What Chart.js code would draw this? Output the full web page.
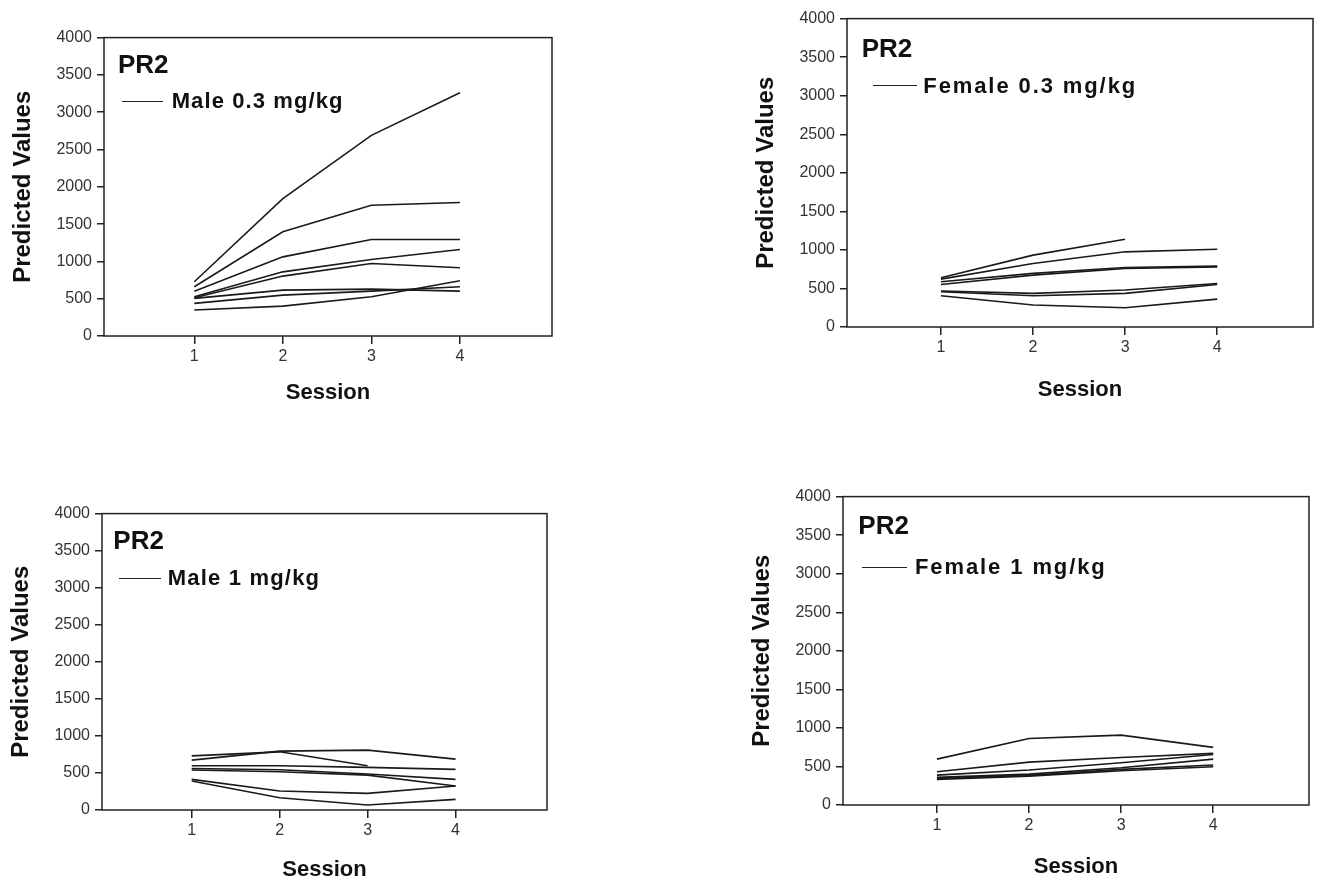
<!DOCTYPE html>
<html>
<head>
<meta charset="utf-8">
<script src="https://cdn.jsdelivr.net/npm/chart.js@4"></script>
<style>
  body { margin: 0; background: #fff; width: 1323px; height: 884px; position: relative; overflow: hidden;
         font-family: "Liberation Sans", Arial, sans-serif; }
  .panel { position: absolute; }
  .tag { position: absolute; font-weight: bold; color: #111; white-space: nowrap; line-height: 1; }
  .key { position: absolute; height: 0; border-top: 1.5px solid #222; }
</style>
</head>
<body>
<script>
const sessions = [1, 2, 3, 4];
const yTicks = [0, 500, 1000, 1500, 2000, 2500, 3000, 3500, 4000];

// one row per subject, one value per session (null = no value)
const male03 = [
  [727, 1842, 2689, 3260],
  [660, 1396, 1753, 1789],
  [600, 1061, 1294, 1294],
  [526, 860, 1026, 1160],
  [513, 803, 972, 914],
  [504, 615, 629, 602],
  [437, 548, 602, 660],
  [348, 401, 526, 740],
];
const female03 = [
  [638, 932, 1139, null],
  [621, 824, 975, 1009],
  [586, 695, 772, 789],
  [552, 673, 759, 780],
  [466, 436, 479, 565],
  [457, 405, 436, 552],
  [405, 285, 250, 362],
];
const male1 = [
  [731, 785, 597, null],
  [673, 795, 808, 687],
  [597, 597, 575, 548],
  [561, 543, 485, 413],
  [539, 516, 471, 323],
  [413, 256, 224, 323],
  [391, 166, 67, 144],
];
const female1 = [
  [595, 863, 906, 747],
  [431, 556, 617, 669],
  [388, 453, 548, 656],
  [358, 401, 483, 595],
  [345, 384, 462, 518],
  [332, 375, 444, 496],
];

const groupLabels = ['Male 0.3 mg/kg', 'Female 0.3 mg/kg', 'Male 1 mg/kg', 'Female 1 mg/kg'];
const groupTag = 'PR2';

// page layout: plot box [left, top, right, bottom], x axis height, overlay text spots
const panels = [
  { rows: male03, box: [104, 37, 552, 336], xh: 72, pr2: [118, 72.7], key: [121.7, 163.3, 101.7], text: [171.7, 109], spacing: 1.1 },
  { rows: female03, box: [847, 18, 1313, 327], xh: 78, pr2: [861.7, 56.7], key: [872.7, 917.3, 86], text: [923.3, 93.3], spacing: 1.9 },
  { rows: male1, box: [102, 513, 547, 810], xh: 75, pr2: [113.3, 549.3], key: [119.3, 160.7, 578.3], text: [167.7, 586], spacing: 1.2 },
  { rows: female1, box: [843, 496, 1309, 805], xh: 77, pr2: [858.3, 534.3], key: [862.3, 906.7, 567.3], text: [915, 575], spacing: 1.9 },
];

const Y_AXIS_W = 100;
const PAD_TOP = 10;
const PAD_RIGHT = 6;
const TOP_EXTRA = 4; // chart area lands a few px below the layout padding

const framePlugin = {
  id: 'frame',
  afterDraw(chart) {
    const { ctx, chartArea: { left, top, right, bottom } } = chart;
    ctx.save();
    ctx.strokeStyle = '#222';
    ctx.lineWidth = 1.5;
    ctx.strokeRect(left, top, right - left, bottom - top);
    ctx.restore();
  },
};

function addText(text, left, baseline, size, spacing) {
  const el = document.createElement('div');
  el.className = 'tag';
  el.textContent = text;
  el.style.fontSize = `${size}px`;
  el.style.letterSpacing = `${spacing}px`;
  el.style.left = `${left}px`;
  el.style.top = `${baseline - size * 0.8465}px`;
  document.body.appendChild(el);
}

function addKey(x1, x2, y) {
  const el = document.createElement('div');
  el.className = 'key';
  el.style.left = `${x1}px`;
  el.style.width = `${x2 - x1}px`;
  el.style.top = `${y - 0.75}px`;
  document.body.appendChild(el);
}

function buildPanel(panel, index) {
  const [l, t, r, b] = panel.box;
  const wrap = document.createElement('div');
  wrap.className = 'panel';
  wrap.style.left = `${l - Y_AXIS_W}px`;
  wrap.style.top = `${t - PAD_TOP - TOP_EXTRA}px`;
  wrap.style.width = `${r - l + Y_AXIS_W + PAD_RIGHT}px`;
  wrap.style.height = `${b - t + PAD_TOP + TOP_EXTRA + panel.xh}px`;
  const canvas = document.createElement('canvas');
  wrap.appendChild(canvas);
  document.body.appendChild(wrap);

  const datasets = panel.rows.map((row) => ({
    data: row.map((v, i) => ({ x: sessions[i], y: v })),
    borderColor: '#1a1a1a',
    borderWidth: 1.6,
    pointRadius: 0,
    tension: 0,
    fill: false,
    spanGaps: false,
  }));

  new Chart(canvas, {
    type: 'line',
    data: { datasets },
    options: {
      responsive: true,
      maintainAspectRatio: false,
      animation: false,
      layout: { padding: { top: PAD_TOP, right: PAD_RIGHT, left: 0, bottom: 0 } },
      plugins: { legend: { display: false }, tooltip: { enabled: false } },
      scales: {
        x: {
          type: 'linear',
          min: -0.02,
          max: 5.04,
          afterBuildTicks: (scale) => { scale.ticks = sessions.map((v) => ({ value: v })); },
          afterFit: (scale) => { scale.height = panel.xh; },
          ticks: { color: '#333', font: { size: 16 }, padding: 3, callback: (v) => String(v) },
          grid: { drawOnChartArea: false, tickLength: 8, color: '#222', lineWidth: 1.5 },
          border: { display: false },
          title: { display: true, text: 'Session', color: '#111', font: { size: 22, weight: 'bold' }, padding: { top: 0, bottom: 2 } },
        },
        y: {
          min: 0,
          max: 4000,
          afterBuildTicks: (scale) => { scale.ticks = yTicks.map((v) => ({ value: v })); },
          afterFit: (scale) => { scale.width = Y_AXIS_W; },
          ticks: { color: '#333', font: { size: 16 }, padding: 5, callback: (v) => String(v) },
          grid: { drawOnChartArea: false, tickLength: 7, color: '#222', lineWidth: 1.5 },
          border: { display: false },
          title: { display: true, text: 'Predicted Values', color: '#111', font: { size: 24, weight: 'bold' }, padding: { top: 5, bottom: 0 } },
        },
      },
    },
    plugins: [framePlugin],
  });

  addText(groupTag, panel.pr2[0], panel.pr2[1], 26, 0);
  addKey(panel.key[0], panel.key[1], panel.key[2]);
  addText(groupLabels[index], panel.text[0], panel.text[1], 22, panel.spacing);
}

Chart.defaults.font.family = '"Liberation Sans", Arial, sans-serif';
panels.forEach(buildPanel);
</script>
</body>
</html>
